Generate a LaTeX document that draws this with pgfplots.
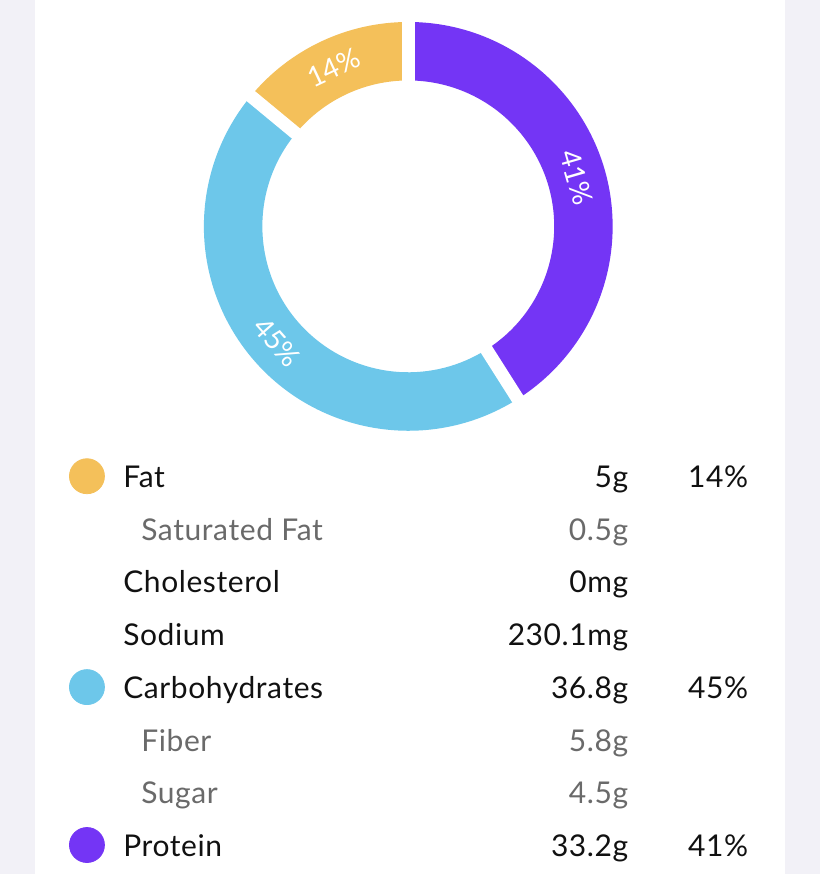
\documentclass[border=0pt]{standalone}
\usepackage{pgfplots}
\pgfplotsset{compat=1.18}
\usepackage{fontspec}
\setmainfont{Lato}
\newfontfamily\tabfont[LetterSpace=2.0]{Lato}
\definecolor{bg}{HTML}{F2F1F7}
\definecolor{cfat}{HTML}{F4C05A}
\definecolor{ccarb}{HTML}{6DC7EA}
\definecolor{cprot}{HTML}{7435F5}
\definecolor{txt}{HTML}{111111}
\definecolor{subt}{HTML}{6A6A6A}
\begin{document}
\begin{tikzpicture}
\begin{axis}[width=410pt,height=437pt,scale only axis,
  xmin=0,xmax=820,ymin=0,ymax=874,axis lines=none,clip=false,enlargelimits=false]
\fill[bg] (axis cs:0,0) rectangle (axis cs:820,874);
\fill[white] (axis cs:35,0) rectangle (axis cs:785,874);
% donut: Protein 41%, Carbohydrates 45%, Fat 14% (clockwise from top)
\fill[cprot] (axis cs:408.5,648) ++(90:102.25pt) arc[start angle=90,end angle=-57.6,radius=102.25pt] -- ++(122.4:29.25pt) arc[start angle=-57.6,end angle=90,radius=73pt] -- cycle;
\fill[ccarb] (axis cs:408.5,648) ++(-57.6:102.25pt) arc[start angle=-57.6,end angle=-219.6,radius=102.25pt] -- ++(-39.6:29.25pt) arc[start angle=-219.6,end angle=-57.6,radius=73pt] -- cycle;
\fill[cfat] (axis cs:408.5,648) ++(-219.6:102.25pt) arc[start angle=-219.6,end angle=-270,radius=102.25pt] -- ++(-90:29.25pt) arc[start angle=-270,end angle=-219.6,radius=73pt] -- cycle;
\draw[white,line width=6.5pt] (axis cs:408.5,648) -- ++(90:110pt);
\draw[white,line width=6.5pt] (axis cs:408.5,648) -- ++(-57.6:110pt);
\draw[white,line width=6.5pt] (axis cs:408.5,648) -- ++(-219.6:110pt);
% labels
\path (axis cs:408.5,648) ++(16.2:87.6pt) node[rotate=-73.8,font=\fontsize{14}{14}\selectfont,text=white]{41\%};
\path (axis cs:408.5,648) ++(-138.6:87.6pt) node[rotate=-48.6,font=\fontsize{14}{14}\selectfont,text=white]{45\%};
\path (axis cs:408.5,648) ++(115.2:87.6pt) node[rotate=25.2,font=\fontsize{14}{14}\selectfont,text=white]{14\%};
% legend markers
\addplot[only marks,mark=*,mark size=8.75pt,mark options={fill=cfat,draw=cfat}] coordinates {(87,398)};
\addplot[only marks,mark=*,mark size=8.75pt,mark options={fill=ccarb,draw=ccarb}] coordinates {(87,187)};
\addplot[only marks,mark=*,mark size=8.75pt,mark options={fill=cprot,draw=cprot}] coordinates {(87,29)};
% table text
\begin{scope}[every node/.style={font=\tabfont\fontsize{15}{15}\selectfont,inner sep=0pt}]
\node[anchor=base west,text=txt] at (axis cs:123,387) {Fat};
\node[anchor=base west,text=subt] at (axis cs:141,334) {Saturated Fat};
\node[anchor=base west,text=txt] at (axis cs:123,282) {Cholesterol};
\node[anchor=base west,text=txt] at (axis cs:123,229) {Sodium};
\node[anchor=base west,text=txt] at (axis cs:123,176) {Carbohydrates};
\node[anchor=base west,text=subt] at (axis cs:141,123) {Fiber};
\node[anchor=base west,text=subt] at (axis cs:141,71) {Sugar};
\node[anchor=base west,text=txt] at (axis cs:123,18) {Protein};
\node[anchor=base east,text=txt] at (axis cs:629,387) {5g};
\node[anchor=base east,text=subt] at (axis cs:629,334) {0.5g};
\node[anchor=base east,text=txt] at (axis cs:629,282) {0mg};
\node[anchor=base east,text=txt] at (axis cs:629,229) {230.1mg};
\node[anchor=base east,text=txt] at (axis cs:629,176) {36.8g};
\node[anchor=base east,text=subt] at (axis cs:629,123) {5.8g};
\node[anchor=base east,text=subt] at (axis cs:629,71) {4.5g};
\node[anchor=base east,text=txt] at (axis cs:629,18) {33.2g};
\node[anchor=base east,text=txt] at (axis cs:749,387) {14\%};
\node[anchor=base east,text=txt] at (axis cs:749,176) {45\%};
\node[anchor=base east,text=txt] at (axis cs:749,18) {41\%};
\end{scope}
\end{axis}
\end{tikzpicture}
\end{document}
